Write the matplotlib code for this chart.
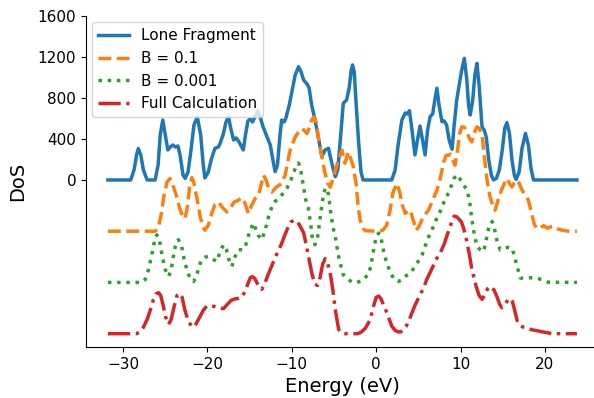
import numpy as np
import matplotlib
matplotlib.use('Agg')
import matplotlib.pyplot as plt

# values (energy in eV, DoS relative to each curve's baseline)
lone_E = [-31.8, -29.1, -28.7, -28.4, -28.2, -27.9, -27.6, -27.15, -26.2, -25.85, -25.6, -25.3, -25.0, -24.7,
          -24.4, -24.1, -23.8, -23.5, -23.25, -22.9, -22.65, -22.3, -21.95, -21.6, -21.2, -20.8, -20.5, -20.3,
          -19.9, -19.5, -19.1, -18.7, -18.5, -18.15, -17.8, -17.5, -17.2, -16.9, -16.6, -16.25, -15.95, -15.75,
          -15.5, -15.2, -14.95, -14.65, -14.35, -14.05, -13.75, -13.4, -12.95, -12.55, -12.2, -11.98, -11.7,
          -11.4, -11.2, -10.9, -10.7, -10.3, -9.95, -9.6, -9.2, -8.9, -8.6, -8.2, -7.95, -7.65, -7.25, -6.8,
          -6.45, -6.05, -5.65, -5.35, -4.85, -4.55, -4.25, -3.9, -3.5, -3.2, -2.95, -2.8, -2.6, -2.4, -2.1,
          -1.8, -1.55, 1.85, 2.25, 2.6, 3.05, 3.45, 3.7, 3.95, 4.25, 4.6, 4.9, 5.2, 5.5, 5.8, 6.1, 6.4, 6.7,
          6.95, 7.2, 7.45, 7.8, 8.05, 8.35, 8.65, 9.0, 9.25, 9.55, 9.75, 10.1, 10.45, 10.75, 10.95, 11.15,
          11.45, 11.7, 11.95, 12.2, 12.55, 12.8, 13.05, 13.35, 13.65, 13.9, 14.25, 14.6, 14.95, 15.25, 15.5,
          15.8, 16.1, 16.4, 16.6, 16.95, 17.3, 17.7, 18.05, 18.35, 18.65, 23.8]
lone_D = [0, 0, 98, 244, 307, 244, 98, 0, 0, 146, 439, 585, 439, 293,
          322, 341, 322, 332, 244, 49, 15, 78, 293, 537, 615, 439, 146, 20,
          78, 215, 309, 322, 358, 439, 566, 615, 488, 390, 410, 371, 322, 293,
          439, 576, 595, 566, 624, 673, 615, 517, 422, 341, 176, 81, 146,
          439, 585, 566, 605, 732, 878, 1024, 1105, 1054, 976, 937, 898, 732, 585, 390,
          227, 293, 309, 195, 32, 98, 390, 748, 780, 898, 1073, 1122, 1054, 780, 390,
          78, 0, 0, 98, 341, 585, 654, 644, 676, 488, 244, 390, 527, 390, 244, 488, 618, 644,
          780, 895, 732, 569, 576, 537, 390, 300, 537, 780, 878, 1054, 1187, 976, 732, 634,
          780, 1024, 1138, 927, 520, 488, 420, 195, 49, 0, 15, 98, 293, 507, 559,
          459, 195, 39, 5, 78, 312, 455, 341, 117, 0, 0]

b01_E = [-31.8, -26.2, -25.85, -25.5, -25.15, -24.8, -24.45, -24.1, -23.7, -23.3, -22.95, -22.65, -22.35,
         -22.1, -21.85, -21.6, -21.2, -20.85, -20.5, -20.3, -19.9, -19.45, -19.1, -18.7, -18.25, -17.7,
         -17.3, -16.85, -16.35, -15.9, -15.55, -15.15, -14.75, -14.35, -14.0, -13.65, -13.35, -13.05,
         -12.75, -12.35, -11.85, -11.2, -10.8, -10.2, -9.6, -9.2, -8.8, -8.55, -8.2, -7.9, -7.65, -7.4,
         -7.1, -6.8, -6.45, -6.1, -5.75, -5.45, -5.0, -4.6, -4.05, -3.7, -3.3, -2.75, -2.35, -2.15, -1.9,
         -1.55, -1.3, 0.25, 0.8, 1.25, 1.65, 2.0, 2.45, 2.8, 3.1, 3.45, 3.75, 4.05, 4.4, 4.75, 5.1, 5.55,
         6.2, 6.7, 7.2, 7.6, 8.0, 8.3, 8.6, 8.8, 9.0, 9.35, 9.65, 9.9, 10.15, 10.45, 10.75, 11.05, 11.35,
         11.6, 11.95, 12.2, 12.55, 12.8, 13.15, 13.5, 13.9, 14.1, 14.45, 14.85, 15.1, 15.5, 15.8, 16.1,
         16.35, 16.7, 16.95, 17.3, 17.7, 18.05, 18.4, 18.75, 19.05, 19.45, 19.85, 20.3, 20.65, 21.0, 21.5,
         22.05, 22.8, 23.8]
b01_D = [0, 0, 29, 156, 351, 478, 514, 449, 351, 224, 146, 124, 254,
         449, 524, 468, 302, 137, 39, 10, 59, 185, 263, 286, 234, 188,
         224, 283, 302, 327, 273, 173, 254, 319, 341, 449, 546, 498,
         420, 383, 429, 465, 546, 790, 920, 966, 1002, 985, 953, 1015, 1083, 1115,
         1063, 888, 741, 576, 470, 429, 546, 663, 790, 663, 774, 644, 449, 254, 107,
         29, 5, 0, 10, 59, 205, 380, 465, 380, 254, 173, 195, 205, 107, 10, 49, 137,
         205, 302, 400, 517, 673, 741, 741, 751, 712, 644, 790, 956, 1018, 1015, 966, 907, 871,
         956, 1018, 1005, 953, 741, 498, 335, 234, 205, 302, 400, 449, 514, 468, 432,
         468, 498, 468, 400, 351, 302, 185, 68, 26, 34, 54, 29, 42, 49, 24,
         10, 0, 0]

b0001_E = [-31.8, -27.8, -27.4, -27.0, -26.55, -26.25, -26.0, -25.7, -25.35, -25.0, -24.6, -24.3, -23.95,
           -23.7, -23.45, -23.1, -22.75, -22.35, -21.95, -21.65, -21.3, -21.05, -20.7, -20.3, -19.9, -19.45,
           -18.9, -18.5, -18.1, -17.75, -17.45, -17.1, -16.8, -16.35, -15.75, -15.45, -15.0, -14.55, -14.25,
           -13.95, -13.55, -13.15, -12.7, -12.2, -11.75, -11.4, -11.0, -10.55, -10.1, -9.65, -9.4, -9.2,
           -8.95, -8.65, -8.35, -8.05, -7.75, -7.55, -7.25, -6.95, -6.6, -6.25, -6.05, -5.85, -5.65, -5.35,
           -5.05, -4.85, -4.5, -4.15, -3.9, -3.45, -2.85, -2.3, -1.65, -1.2, -0.9, -0.6, -0.3, 0.0, 0.3,
           0.55, 0.85, 1.2, 1.55, 1.9, 2.25, 2.65, 3.1, 3.55, 4.05, 4.5, 4.95, 5.45, 5.95, 6.4, 6.9, 7.25,
           7.6, 8.0, 8.3, 8.6, 8.9, 9.2, 9.55, 9.85, 10.2, 10.75, 11.05, 11.35, 11.65, 11.95, 12.35, 12.75,
           13.05, 13.35, 13.75, 14.05, 14.35, 14.7, 15.2, 15.65, 16.1, 16.35, 16.65, 17.1, 17.65, 18.25,
           19.1, 19.7, 20.4, 23.8]
b0001_D = [0, 0, 26, 124, 290, 417, 465, 417, 251, 124, 59, 124, 300,
           397, 417, 368, 221, 95, 26, 10, 56, 143, 221, 246, 254, 231,
           205, 300, 368, 319, 221, 156, 241, 319, 319, 368, 495, 580, 514,
           456, 417, 514, 660, 775, 807, 836, 872, 924, 1002, 1100, 1153, 1165,
           1100, 953, 807, 726, 563, 417, 368, 436, 660, 855, 914, 921, 855, 660,
           514, 449, 270, 153, 75, 36, 2, 0, 17, 56, 75, 173, 319, 446, 482,
           446, 319, 202, 124, 65, 21, 10, 26, 65, 92, 143, 202, 270, 387, 482, 563, 641,
           693, 777, 836, 872, 943, 1012, 1051, 1021, 973, 904, 807, 612, 465, 351, 319, 302,
           417, 534, 595, 514, 397, 319, 334, 343, 336, 270, 173, 43, 41, 46,
           41, 26, 2, 0]

full_E = [-31.8, -28.4, -28.0, -27.6, -27.15, -26.75, -26.4, -26.1, -25.8, -25.55, -25.25, -24.95, -24.6,
          -24.3, -23.95, -23.6, -23.3, -23.0, -22.7, -22.35, -21.85, -21.45, -20.95, -20.5, -20.1, -19.7,
          -19.2, -18.75, -18.1, -17.65, -17.2, -16.7, -16.35, -15.95, -15.55, -15.1, -14.9, -14.65, -14.4,
          -14.1, -13.8, -13.55, -13.2, -12.8, -12.3, -11.8, -11.25, -10.8, -10.4, -10.1, -9.7, -9.35, -9.0,
          -8.6, -8.3, -7.95, -7.6, -7.25, -6.95, -6.65, -6.35, -6.05, -5.75, -5.45, -5.15, -4.85, -4.45,
          -4.15, -3.7, -2.25, -1.8, -1.3, -0.95, -0.7, -0.35, 0.0, 0.3, 0.55, 0.85, 1.2, 1.55, 1.85, 2.25,
          2.6, 2.85, 3.2, 3.55, 3.9, 4.25, 4.6, 5.1, 5.6, 6.0, 6.4, 6.9, 7.25, 7.6, 8.05, 8.4, 8.8, 9.05,
          9.25, 9.55, 9.85, 10.1, 10.35, 10.7, 11.05, 11.35, 11.55, 11.85, 12.2, 12.55, 12.85, 13.2, 13.5,
          13.7, 14.0, 14.35, 14.65, 14.9, 15.2, 15.5, 15.7, 15.9, 16.15, 16.45, 16.75, 17.1, 17.55, 18.05,
          18.65, 19.2, 19.7, 20.25, 20.9, 23.8]
full_D = [0, 0, 18, 61, 140, 237, 335, 388, 400, 374, 276, 159, 91,
          140, 266, 374, 393, 354, 237, 140, 64, 81, 159, 227, 269, 271,
          266, 252, 244, 286, 325, 340, 344, 351, 413, 510, 549, 556, 540,
          491, 447, 433, 491, 579, 676, 774, 871, 969, 1047, 1091, 1108, 1096, 1047,
          985, 871, 725, 579, 481, 471, 549, 676, 732, 686, 595, 433, 237, 42,
          8, 0, 0, 13, 52, 100, 140, 257, 354, 367, 344, 286, 218, 140, 74, 32,
          18, 16, 32, 71, 130, 205, 276, 364, 442, 530, 598, 686, 744, 790, 871, 959, 1047, 1125,
          1147, 1140, 1115, 1091, 1034, 920, 774, 627, 562, 461, 374, 335, 374, 437, 457,
          459, 422, 354, 286, 254, 276, 315, 340, 341, 315, 218, 120, 74, 61, 47,
          35, 27, 18, 10, 0, 0]

labels = ['Lone Fragment', 'B = 0.1', 'B = 0.001', 'Full Calculation']
offsets = [0, -500, -1000, -1500]
styles = ['-', '--', ':', '-.']
colors = ['tab:blue', 'tab:orange', 'tab:green', 'tab:red']
series = [(lone_E, lone_D), (b01_E, b01_D), (b0001_E, b0001_D), (full_E, full_D)]

fig = plt.figure(figsize=(5.94, 3.98), dpi=100)
ax = fig.add_axes([86/594, 51/398, 512/594, 331/398])
for (E, D), lab, off, ls, c in zip(series, labels, offsets, styles, colors):
    ax.plot(E, np.array(D) + off, ls, color=c, lw=2.5, label=lab)

ax.set_xlim(-34.4, 26.3)
ax.set_ylim(-1630, 1600)
ax.set_yticks([0, 400, 800, 1200, 1600])
ax.spines['top'].set_visible(False)
ax.spines['right'].set_visible(False)
ax.tick_params(labelsize=11)
ax.set_xlabel('Energy (eV)', fontsize=14)
ax.set_ylabel('DoS', fontsize=14)
ax.yaxis.set_label_coords(-0.115, 0.5)
ax.legend(loc='upper left', fontsize=11, borderaxespad=0.4)

fig.savefig('out.png', dpi=100)
